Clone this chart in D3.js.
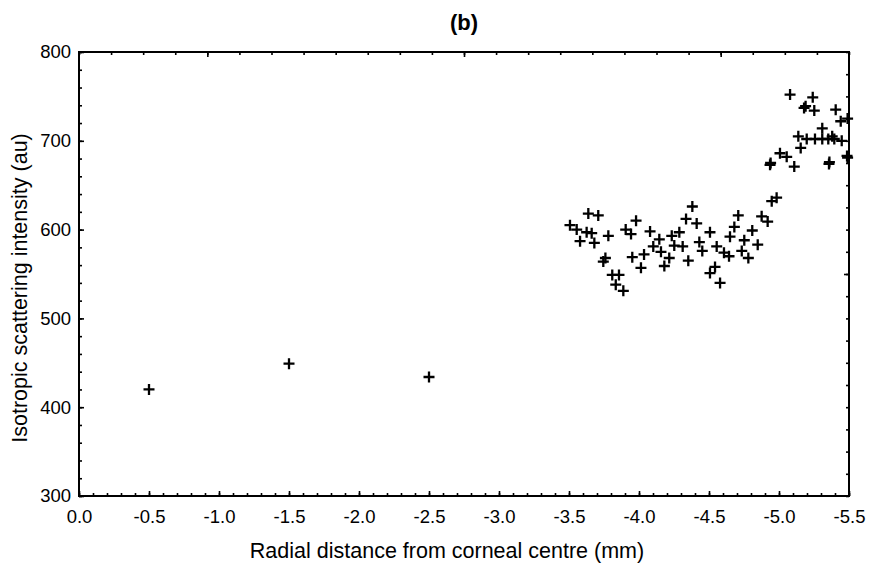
<!DOCTYPE html>
<html>
<head>
<meta charset="utf-8">
<script src="https://cdn.jsdelivr.net/npm/d3@7"></script>
<style>
  html, body { margin: 0; padding: 0; background: #fff; }
  text { font-family: "Liberation Sans", Arial, sans-serif; fill: #000; }
</style>
</head>
<body>
<div id="chart"></div>
<script>
// scatter (b): isotropic scattering intensity vs radial distance

const TITLE = "(b)";
const X_LABEL = "Radial distance from corneal centre (mm)";
const Y_LABEL = "Isotropic scattering intensity (au)";

const X_TICKS = [0, -0.5, -1, -1.5, -2, -2.5, -3, -3.5, -4, -4.5, -5, -5.5];
const Y_TICKS = [300, 400, 500, 600, 700, 800];

// radial distance (mm)
const DIST = [
  -0.5, -1.5, -2.5,
  -3.507, -3.555, -3.626, -3.662, -3.579, -3.681, -3.638, -3.709, -3.781, -3.745, -3.76,
  -3.905, -3.979, -3.943, -3.809, -3.857, -3.834, -3.888, -3.952, -4.036, -4.014, -4.079,
  -4.102, -4.145, -4.157, -4.216, -4.181, -4.381, -4.336, -4.412, -4.288, -4.234, -4.252,
  -4.312, -4.352, -4.431, -4.452, -4.507, -4.555, -4.607, -4.643, -4.507, -4.543, -4.579,
  -4.709, -4.681, -4.65, -4.752, -4.734, -4.781, -4.809, -4.848, -4.876, -4.919, -4.948,
  -4.983, -4.936, -4.94, -5.109, -5.007, -5.055, -5.155, -5.138, -5.198, -5.257, -5.309,
  -5.352, -5.395, -5.38, -5.309, -5.448, -5.079, -5.241, -5.179, -5.19, -5.252, -5.405,
  -5.441, -5.49, -5.357, -5.36, -5.486, -5.49
];
// intensity (au)
const INTENSITY = [
  420, 449, 434,
  605, 600, 597, 596, 587, 585, 618, 616, 593, 564, 568,
  600, 610, 595, 549, 549, 538, 531, 569, 572, 557, 598,
  581, 589, 575, 568, 559, 626, 612, 607, 597, 593, 582,
  581, 565, 586, 576, 597, 581, 574, 570, 551, 558, 540,
  616, 603, 592, 588, 576, 568, 599, 583, 615, 609, 632,
  636, 673, 675, 671, 686, 682, 692, 705, 702, 702, 702,
  702, 702, 705, 714, 700, 752, 749, 737, 739, 734, 735,
  722, 725, 674, 676, 683, 681
];

const W = 871, H = 572;
const M = { top: 52, right: 22, bottom: 76, left: 79 };
const iW = W - M.left - M.right;
const iH = H - M.top - M.bottom;

const svg = d3.select("#chart").append("svg")
  .attr("width", W).attr("height", H).attr("viewBox", `0 0 ${W} ${H}`);

const g = svg.append("g").attr("transform", `translate(${M.left},${M.top})`);

const x = d3.scaleLinear().domain([0, -5.5]).range([0, iW]);
const y = d3.scaleLinear().domain([300, 800]).range([iH, 0]);

// minor ticks (inward)
g.append("g").attr("class", "axis minor").attr("transform", `translate(0,${iH})`)
  .call(d3.axisBottom(x).tickValues(d3.range(0, 56).map(i => -i / 10)).tickSize(-3).tickFormat(""));
g.append("g").attr("class", "axis minor")
  .call(d3.axisLeft(y).tickValues(d3.range(300, 801, 20)).tickSize(-3).tickFormat(""));

// major ticks + labels
const xAxisG = g.append("g").attr("class", "axis major").attr("transform", `translate(0,${iH})`)
  .call(d3.axisBottom(x).tickValues(X_TICKS).tickSize(-5)
    .tickFormat(d => d3.format(".1f")(d).replace("−", "-")));
xAxisG.selectAll("text").attr("y", 27).attr("dy", 0);
g.append("g").attr("class", "axis major")
  .call(d3.axisLeft(y).tickValues(Y_TICKS).tickSize(-5).tickPadding(8).tickFormat(d3.format("d")));

// top and right frame ticks
const xTop = d3.scaleLinear().domain([0, 24]).range([0, iW]);
g.append("g").attr("class", "axis minor")
  .call(d3.axisTop(xTop).tickValues(d3.range(0, 25)).tickSize(-3).tickFormat(""));
g.append("g").attr("class", "axis minor")
  .call(d3.axisTop(xTop).tickValues([4, 12, 20]).tickSize(-5).tickFormat(""));
g.append("g").attr("class", "axis minor").attr("transform", `translate(${iW},0)`)
  .call(d3.axisRight(y).tickValues(d3.range(300, 801, 25)).tickSize(-3).tickFormat(""));
g.append("g").attr("class", "axis minor").attr("transform", `translate(${iW},0)`)
  .call(d3.axisRight(y).tickValues([550]).tickSize(-5).tickFormat(""));

g.selectAll(".axis .domain").remove();
g.selectAll(".axis line").attr("stroke", "#000").attr("stroke-width", 1.6);
g.selectAll(".axis.major text").attr("font-size", "18.5px").attr("fill", "#000");

// frame
g.append("rect").attr("width", iW).attr("height", iH)
  .attr("fill", "none").attr("stroke", "#000").attr("stroke-width", 2);

// plus markers
const pts = DIST.map((d, i) => ({ d, v: INTENSITY[i] }));
g.append("g").selectAll("path.pt").data(pts).join("path")
  .attr("class", "pt")
  .attr("transform", p => `translate(${x(p.d)},${y(p.v)})`)
  .attr("d", "M-5.5,0H5.5M0,-5.5V5.5")
  .attr("stroke", "#000").attr("stroke-width", 2.3).attr("fill", "none");

// titles
svg.append("text").attr("x", M.left + iW / 2).attr("y", 30)
  .attr("text-anchor", "middle").attr("font-size", "22px").attr("font-weight", "bold")
  .text(TITLE);
svg.append("text").attr("x", 447).attr("y", 558)
  .attr("text-anchor", "middle").attr("font-size", "21.5px")
  .text(X_LABEL);
svg.append("text").attr("transform", `translate(27,288) rotate(-90)`)
  .attr("text-anchor", "middle").attr("font-size", "21.5px")
  .text(Y_LABEL);
</script>
</body>
</html>
